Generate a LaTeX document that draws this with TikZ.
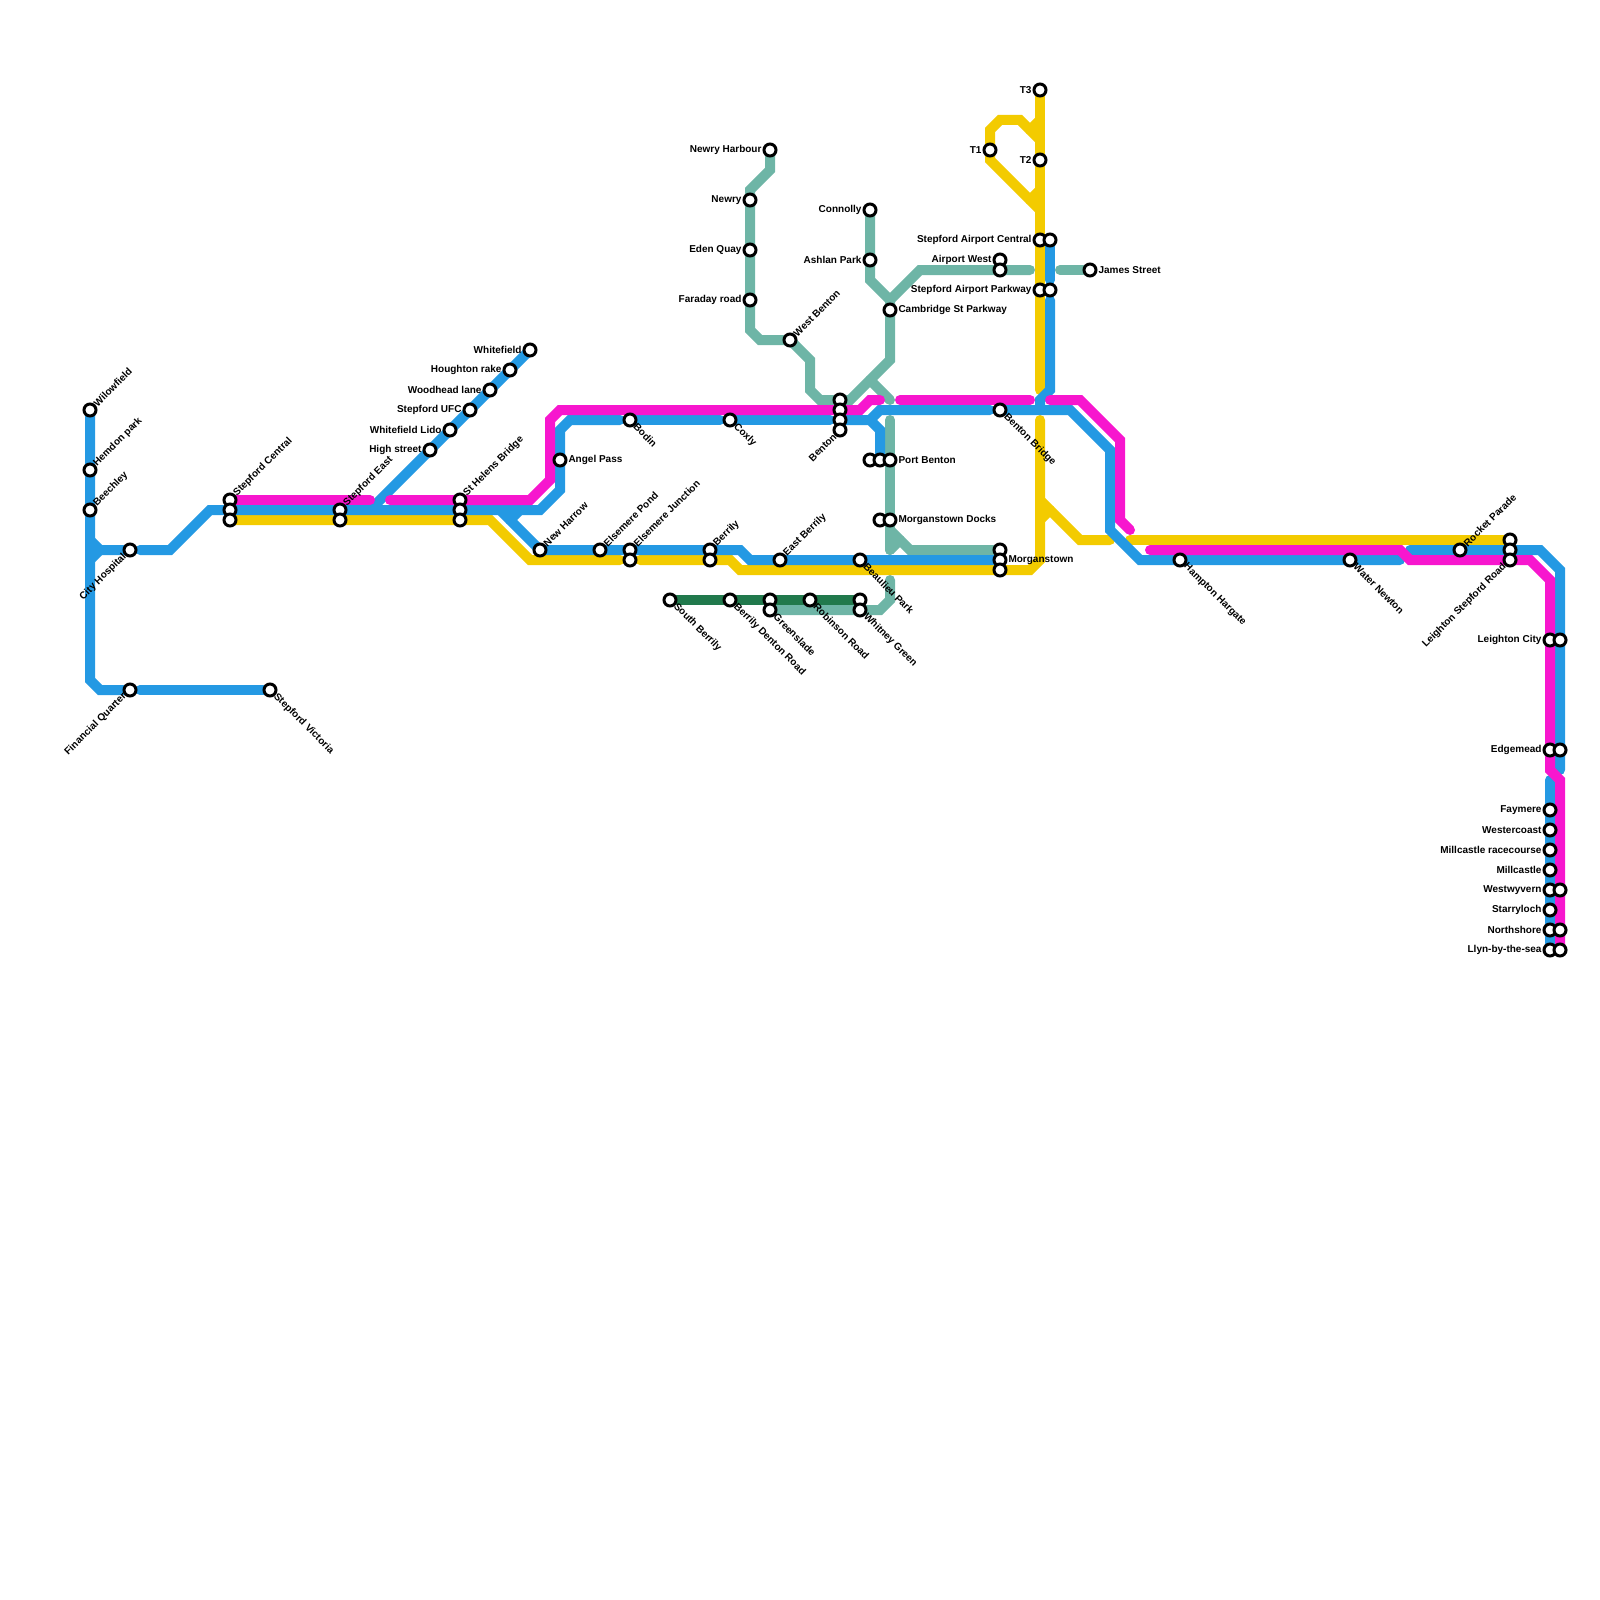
\documentclass[tikz,border=0pt]{standalone}
\usepackage{fontspec}
\setmainfont{Liberation Sans}
\usepackage{xcolor}
\usetikzlibrary{backgrounds}
\definecolor{blueln}{HTML}{2499E3}
\definecolor{magln}{HTML}{F716CE}
\definecolor{yelln}{HTML}{F3CB00}
\definecolor{grnln}{HTML}{6EB5A6}
\definecolor{dgrnln}{HTML}{21794C}
\tikzset{
  track/.style={line width=5pt, line cap=round, line join=miter},
  bluetrack/.style={track, draw=blueln},
  magtrack/.style={track, draw=magln},
  yeltrack/.style={track, draw=yelln},
  grntrack/.style={track, draw=grnln},
  dgrntrack/.style={track, draw=dgrnln},
  stn/.style={draw=black, fill=white, circle, line width=1.5pt, inner sep=0pt, minimum size=6pt},
  lbl/.style={font=\bfseries\fontsize{5}{5}\selectfont, inner sep=0pt, outer sep=0pt},
  lblr/.style={lbl, anchor=west, label distance=0.5pt},
  lbll/.style={lbl, anchor=east, label distance=0.5pt},
  lblne/.style={lbl, rotate=45, anchor=west, label distance=0pt},
  lblse/.style={lbl, rotate=-45, anchor=west, label distance=0pt},
  lblsw/.style={lbl, rotate=45, anchor=east, label distance=0pt},
}

\begin{document}
\begin{tikzpicture}[x=0.5pt, y=-0.5pt]
  \useasboundingbox (0,0) rectangle (1600,1600);
  % west
  \node[stn, label={[lblne]45:Wilowfield}] (willowfield) at (90,410) {};
  \node[stn, label={[lblne]45:Hemdon park}] (herndon) at (90,470) {};
  \node[stn, label={[lblne]45:Beechley}] (beechley) at (90,510) {};
  \node[stn, label={[lblsw]225:City Hospital}] (cityhosp) at (130,550) {};
  \node[stn, label={[lblsw]225:Financial Quarter}] (finquarter) at (130,690) {};
  \node[stn, label={[lblse]-45:Stepford Victoria}] (stepvictoria) at (270,690) {};
  \node[stn, label={[lblne]45:Stepford Central}] (stepcentralm) at (230,500) {};
  \node[stn] (stepcentralb) at (230,510) {};
  \node[stn] (stepcentraly) at (230,520) {};
  \node[stn, label={[lblne]45:Stepford East}] (stepeastb) at (340,510) {};
  \node[stn] (stepeasty) at (340,520) {};
  \node[stn, label={[lblne]45:St Helens Bridge}] (sthelensm) at (460,500) {};
  \node[stn] (sthelensb) at (460,510) {};
  \node[stn] (sthelensy) at (460,520) {};
  % whitefield branch
  \node[stn, label={[lbll]180:Whitefield}] (whitefield) at (530,350) {};
  \node[stn, label={[lbll]180:Houghton rake}] (houghton) at (510,370) {};
  \node[stn, label={[lbll]180:Woodhead lane}] (woodhead) at (490,390) {};
  \node[stn, label={[lbll]180:Stepford UFC}] (stepufc) at (470,410) {};
  \node[stn, label={[lbll]180:Whitefield Lido}] (wflido) at (450,430) {};
  \node[stn, label={[lbll]180:High street}] (highst) at (430,450) {};
  % middle
  \node[stn, label={[lblr]0:Angel Pass}] (angelpass) at (560,460) {};
  \node[stn, label={[lblne]45:New Harrow}] (newharrow) at (540,550) {};
  \node[stn, label={[lblne]45:Elsemere Pond}] (elspond) at (600,550) {};
  \node[stn, label={[lblne]45:Elsemere Junction}] (elsjunctb) at (630,550) {};
  \node[stn] (elsjuncty) at (630,560) {};
  \node[stn, label={[lblse]-45:Bodin}] (bodin) at (630,420) {};
  \node[stn, label={[lblse]-45:Coxly}] (coxly) at (730,420) {};
  \node[stn, label={[lblne]45:Berrily}] (berrilyb) at (710,550) {};
  \node[stn] (berrilyy) at (710,560) {};
  \node[stn, label={[lblne]45:East Berrily}] (eastberrily) at (780,560) {};
  \node[stn, label={[lblse]-45:Beaulieu Park}] (beaulieu) at (860,560) {};
  \node[stn, label={[lblse]-45:South Berrily}] (southberrily) at (670,600) {};
  \node[stn, label={[lblse]-45:Berrily Denton Road}] (dentonrd) at (730,600) {};
  \node[stn] (greensladed) at (770,600) {};
  \node[stn, label={[lblse]-45:Greenslade}] (greensladeg) at (770,610) {};
  \node[stn, label={[lblse]-45:Robinson Road}] (robinson) at (810,600) {};
  \node[stn] (whitneyd) at (860,600) {};
  \node[stn, label={[lblse]-45:Whitney Green}] (whitneyg) at (860,610) {};
  % green north
  \node[stn, label={[lbll]180:Newry Harbour}] (newryharb) at (770,150) {};
  \node[stn, label={[lbll]180:Newry}] (newry) at (750,200) {};
  \node[stn, label={[lbll]180:Eden Quay}] (edenquay) at (750,250) {};
  \node[stn, label={[lbll]180:Faraday road}] (faraday) at (750,300) {};
  \node[stn, label={[lblne]45:West Benton}] (westbenton) at (790,340) {};
  \node[stn, label={[lbll]180:Connolly}] (connolly) at (870,210) {};
  \node[stn, label={[lbll]180:Ashlan Park}] (ashlan) at (870,260) {};
  \node[stn, label={[lblr]0:Cambridge St Parkway}] (cambridge) at (890,310) {};
  \node[stn, label={[lbll]180:Airport West}] (airwestt) at (1000,260) {};
  \node[stn] (airwestg) at (1000,270) {};
  \node[stn, label={[lblr]0:James Street}] (jamesst) at (1090,270) {};
  \node[stn] (bentong) at (840,400) {};
  \node[stn] (bentonm) at (840,410) {};
  \node[stn] (bentonb) at (840,420) {};
  \node[stn, label={[lblsw]225:Benton}] (bentonl) at (840,430) {};
  \node[stn] (portbentonl) at (870,460) {};
  \node[stn] (portbentonb) at (880,460) {};
  \node[stn, label={[lblr]0:Port Benton}] (portbentong) at (890,460) {};
  \node[stn] (docksl) at (880,520) {};
  \node[stn, label={[lblr]0:Morganstown Docks}] (docksg) at (890,520) {};
  \node[stn] (morgang) at (1000,550) {};
  \node[stn, label={[lblr]0:Morganstown}] (morganb) at (1000,560) {};
  \node[stn] (morgany) at (1000,570) {};
  \node[stn, label={[lblse]-45:Benton Bridge}] (bentonbr) at (1000,410) {};
  % airport
  \node[stn, label={[lbll]180:T3}] (tthree) at (1040,90) {};
  \node[stn, label={[lbll]180:T2}] (ttwo) at (1040,160) {};
  \node[stn, label={[lbll]180:T1}] (tone) at (990,150) {};
  \node[stn, label={[lbll]180:Stepford Airport Central}] (aircentraly) at (1040,240) {};
  \node[stn] (aircentralb) at (1050,240) {};
  \node[stn, label={[lbll]180:Stepford Airport Parkway}] (airparkwayy) at (1040,290) {};
  \node[stn] (airparkwayb) at (1050,290) {};
  % east
  \node[stn, label={[lblse]-45:Hampton Hargate}] (hampton) at (1180,560) {};
  \node[stn, label={[lblse]-45:Water Newton}] (waternewton) at (1350,560) {};
  \node[stn, label={[lblne]45:Rocket Parade}] (rocket) at (1460,550) {};
  \node[stn] (leightonrdy) at (1510,540) {};
  \node[stn] (leightonrdb) at (1510,550) {};
  \node[stn, label={[lblsw]225:Leighton Stepford Road}] (leightonrdm) at (1510,560) {};
  \node[stn, label={[lbll]180:Leighton City}] (leightonm) at (1550,640) {};
  \node[stn] (leightonb) at (1560,640) {};
  \node[stn, label={[lbll]180:Edgemead}] (edgemeadm) at (1550,750) {};
  \node[stn] (edgemeadb) at (1560,750) {};
  \node[stn, label={[lbll]180:Faymere}] (faymere) at (1550,810) {};
  \node[stn, label={[lbll]180:Westercoast}] (westercoast) at (1550,830) {};
  \node[stn, label={[lbll]180:Millcastle racecourse}] (racecourse) at (1550,850) {};
  \node[stn, label={[lbll]180:Millcastle}] (millcastle) at (1550,870) {};
  \node[stn, label={[lbll]180:Westwyvern}] (westwyvb) at (1550,890) {};
  \node[stn] (westwyvm) at (1560,890) {};
  \node[stn, label={[lbll]180:Starryloch}] (starryloch) at (1550,910) {};
  \node[stn, label={[lbll]180:Northshore}] (northshoreb) at (1550,930) {};
  \node[stn] (northshorem) at (1560,930) {};
  \node[stn, label={[lbll]180:Llyn-by-the-sea}] (llynb) at (1550,950) {};
  \node[stn] (llynm) at (1560,950) {};
  % free line ends
  \coordinate (bA) at (140,690);
  \coordinate (bB) at (90,540);
  \coordinate (bC) at (90,560);
  \coordinate (bD) at (140,550);
  \coordinate (bE) at (620,420);
  \coordinate (bF) at (720,420);
  \coordinate (bG) at (830,420);
  \coordinate (bH) at (500,510);
  \coordinate (bI) at (520,510);
  \coordinate (bJ) at (510,520);
  \coordinate (bK) at (870,420);
  \coordinate (bL) at (990,410);
  \coordinate (bM) at (1400,560);
  \coordinate (bN) at (1040,410);
  \coordinate (bO) at (1050,300);
  \coordinate (bP) at (1050,280);
  \coordinate (bQ) at (1410,550);
  \coordinate (bR) at (1560,770);
  \coordinate (bS) at (1550,780);
  \coordinate (mA) at (370,500);
  \coordinate (mB) at (390,500);
  \coordinate (mC) at (880,400);
  \coordinate (mD) at (900,400);
  \coordinate (mE) at (1030,400);
  \coordinate (mF) at (1050,400);
  \coordinate (mG) at (1130,530);
  \coordinate (mH) at (1150,550);
  \coordinate (yA) at (620,560);
  \coordinate (yB) at (640,560);
  \coordinate (yC) at (1040,420);
  \coordinate (yD) at (1040,390);
  \coordinate (yE) at (1040,140);
  \coordinate (yF) at (1040,210);
  \coordinate (yG) at (1030,130);
  \coordinate (yH) at (1040,120);
  \coordinate (yI) at (1030,200);
  \coordinate (yJ) at (1040,190);
  \coordinate (yK) at (1040,500);
  \coordinate (yL) at (1110,540);
  \coordinate (yM) at (1050,510);
  \coordinate (yN) at (1040,520);
  \coordinate (yO) at (1130,540);
  \coordinate (gA) at (1030,270);
  \coordinate (gB) at (1060,270);
  \coordinate (gC) at (870,380);
  \coordinate (gD) at (890,400);
  \coordinate (gE) at (890,420);
  \coordinate (gF) at (890,550);
  \coordinate (gG) at (890,530);
  \coordinate (gH) at (900,540);
  \coordinate (gI) at (890,580);
  \begin{scope}[on background layer]
    % green
    \draw[grntrack] (newryharb.center)--(770,170)--(750,190)--(newry.center)--(edenquay.center)--(faraday.center)--(750,330)--(760,340)--(westbenton.center)--(810,360)--(810,390)--(820,400)--(bentong.center)--(850,400)--(890,360)--(cambridge.center)--(890,300)--(920,270)--(airwestg.center)--(gA);
    \draw[grntrack] (connolly.center)--(ashlan.center)--(870,280)--(890,300);
    \draw[grntrack] (gB)--(jamesst.center);
    \draw[grntrack] (gC)--(gD);
    \draw[grntrack] (gE)--(portbentong.center)--(docksg.center)--(gF);
    \draw[grntrack] (gG)--(910,550)--(morgang.center);
    \draw[grntrack] (gF)--(gH);
    \draw[grntrack] (gI)--(890,600)--(880,610)--(whitneyg.center)--(greensladeg.center);
    \draw[dgrntrack] (southberrily.center)--(dentonrd.center)--(greensladed.center)--(robinson.center)--(whitneyd.center);
    % yellow
    \draw[yeltrack] (stepcentraly.center)--(stepeasty.center)--(sthelensy.center)--(490,520)--(530,560)--(yA);
    \draw[yeltrack] (yB)--(berrilyy.center)--(730,560)--(740,570)--(morgany.center)--(1030,570)--(1040,560)--(yC);
    \draw[yeltrack] (tthree.center)--(ttwo.center)--(aircentraly.center)--(airparkwayy.center)--(yD);
    \draw[yeltrack] (yE)--(1020,120)--(1000,120)--(990,130)--(tone.center)--(990,160)--(yF);
    \draw[yeltrack] (yG)--(yH);
    \draw[yeltrack] (yI)--(yJ);
    \draw[yeltrack] (yK)--(1080,540)--(yL);
    \draw[yeltrack] (yM)--(yN);
    \draw[yeltrack] (yO)--(leightonrdy.center);
    % blue
    \draw[bluetrack] (willowfield.center)--(herndon.center)--(beechley.center)--(90,680)--(100,690)--(finquarter.center);
    \draw[bluetrack] (bA)--(stepvictoria.center);
    \draw[bluetrack] (bB)--(100,550)--(cityhosp.center);
    \draw[bluetrack] (bC)--(100,550);
    \draw[bluetrack] (bD)--(170,550)--(210,510)--(stepcentralb.center)--(stepeastb.center)--(sthelensb.center)--(540,510)--(560,490)--(angelpass.center)--(560,430)--(570,420)--(bE);
    \draw[bluetrack] (bodin.center)--(bF);
    \draw[bluetrack] (coxly.center)--(bG);
    \draw[bluetrack] (bentonb.center)--(870,420)--(880,430)--(portbentonb.center);
    \draw[bluetrack] (whitefield.center)--(houghton.center)--(woodhead.center)--(stepufc.center)--(wflido.center)--(highst.center)--(370,510);
    \draw[bluetrack] (bH)--(newharrow.center)--(elspond.center)--(elsjunctb.center)--(berrilyb.center)--(740,550)--(750,560)--(eastberrily.center)--(beaulieu.center)--(morganb.center);
    \draw[bluetrack] (bI)--(bJ);
    \draw[bluetrack] (bK)--(880,410)--(bL);
    \draw[bluetrack] (bentonbr.center)--(1070,410)--(1110,450)--(1110,530)--(1140,560)--(hampton.center)--(waternewton.center)--(bM);
    \draw[bluetrack] (bN)--(1040,400)--(1050,390)--(bO);
    \draw[bluetrack] (aircentralb.center)--(bP);
    \draw[bluetrack] (bQ)--(rocket.center)--(leightonrdb.center)--(1540,550)--(1560,570)--(leightonb.center)--(edgemeadb.center)--(bR);
    \draw[bluetrack] (bS)--(faymere.center)--(westercoast.center)--(racecourse.center)--(millcastle.center)--(westwyvb.center)--(starryloch.center)--(northshoreb.center)--(llynb.center);
    % magenta
    \draw[magtrack] (stepcentralm.center)--(mA);
    \draw[magtrack] (mB)--(sthelensm.center)--(530,500)--(550,480)--(550,420)--(560,410)--(bentonm.center)--(860,410)--(870,400)--(mC);
    \draw[magtrack] (mD)--(mE);
    \draw[magtrack] (mF)--(1080,400)--(1120,440)--(1120,520)--(mG);
    \draw[magtrack] (mH)--(1400,550)--(1410,560)--(leightonrdm.center)--(1530,560)--(1550,580)--(leightonm.center)--(edgemeadm.center)--(1550,770)--(1560,780)--(westwyvm.center)--(northshorem.center)--(llynm.center);
  \end{scope}
\end{tikzpicture}
\end{document}
